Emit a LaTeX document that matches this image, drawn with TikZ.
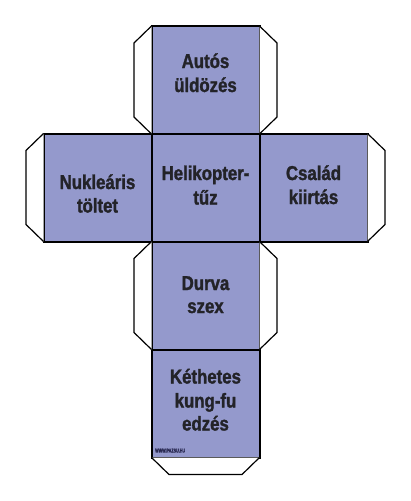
\documentclass[tikz,border=0pt]{standalone}
\usepackage{fontspec}
\newfontfamily\labfont{Liberation Sans Bold}[FakeStretch=0.84,FakeBold=1.5]
\definecolor{facefill}{RGB}{148,153,204}
\definecolor{labtext}{RGB}{35,35,40}
\definecolor{marktext}{RGB}{40,40,80}
\begin{document}
\begin{tikzpicture}[x=1pt,y=-1pt,
  face/.style={draw=black,line width=2pt,fill=facefill,minimum width=108pt,minimum height=108pt,inner sep=0pt,outer sep=0pt,rectangle},
  tab/.style={draw=black,line width=1.2pt,fill=white,line join=miter},
  lab/.style={anchor=base,inner sep=0pt,text=labtext,font=\labfont\fontsize{20}{23}\selectfont},
  wwwmark/.style={anchor=base west,inner sep=0pt,text=marktext,font=\labfont\fontsize{5.5}{6}\selectfont}]
\useasboundingbox (0,0) rectangle (410,501);
\fill[white] (0,0) rectangle (410,501);
% faces
\node[face] (top)    at (205.5,80) {};
\node[face] (left)   at (97.5,187.5) {};
\node[face] (center) at (205.5,187.5) {};
\node[face] (right)  at (313.5,187.5) {};
\node[face] (durva)  at (205.5,295.5) {};
\node[face] (bottom) at (205.5,403.5) {};
% tabs
\draw[tab] (top.north west) -- ++(-17.5,17) -- ++(0,74) -- (top.south west);
\draw[tab] (top.north east) -- ++(17.5,17) -- ++(0,74) -- (top.south east);
\draw[tab] (left.north west) -- ++(-17.5,17) -- ++(0,74) -- (left.south west);
\draw[tab] (right.north east) -- ++(17.5,17) -- ++(0,74) -- (right.south east);
\draw[tab] (durva.north west) -- ++(-17.5,17) -- ++(0,74) -- (durva.south west);
\draw[tab] (durva.north east) -- ++(17.5,17) -- ++(0,74) -- (durva.south east);
\draw[tab] (bottom.south west) -- ++(17.5,17) -- ++(73,0) -- (bottom.south east);
% labels
\node[lab] (autosA) at (205.5,68) {Autós};
\node[lab] (autosB) at (205.5,92) {üldözés};
\node[lab] (nukA) at (97.5,189) {Nukleáris};
\node[lab] (nukB) at (97.5,212.5) {töltet};
\node[lab] (heliA) at (205.5,180) {Helikopter-};
\node[lab] (heliB) at (205.5,204.5) {tűz};
\node[lab] (csalA) at (313.5,180) {Család};
\node[lab] (csalB) at (313.5,204) {kiirtás};
\node[lab] (durvaA) at (205.5,290) {Durva};
\node[lab] (durvaB) at (205.5,313) {szex};
\node[lab] (ketA) at (205.5,383.5) {Kéthetes};
\node[lab] (ketB) at (205.5,407.5) {kung-fu};
\node[lab] (ketC) at (205.5,430.5) {edzés};
\node[wwwmark] (www) at (155,452.5) {\scalebox{0.8}[1]{WWW.PAZSU.HU}};
\end{tikzpicture}
\end{document}
